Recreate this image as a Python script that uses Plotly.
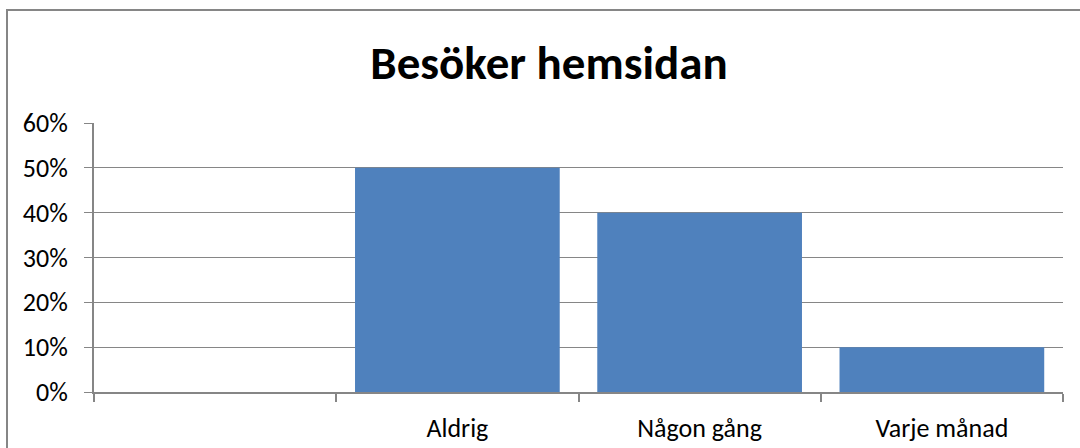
import plotly.graph_objects as go

categories = [" ", "Aldrig", "Någon gång", "Varje månad"]
values = [0.0, 0.50, 0.40, 0.10]
tick_vals = [0, 0.1, 0.2, 0.3, 0.4, 0.5, 0.6]
tick_text = ["0%", "10%", "20%", "30%", "40%", "50%", "60%"]
title = "Besöker hemsidan"

W, H = 1080, 448
L, R, T, B = 94, 17, 123, 56
pw, ph = W - L - R, H - T - B

FONT = "Carlito, Calibri, 'Open Sans', sans-serif"

fig = go.Figure(go.Bar(x=categories, y=values, marker=dict(color="#4F81BD", line=dict(width=0))))

grid = "#868686"
fig.update_layout(
    width=W, height=H,
    margin=dict(l=L, r=R, t=T, b=B, autoexpand=False),
    paper_bgcolor="white", plot_bgcolor="white",
    bargap=0.155,
    showlegend=False,
    font=dict(family=FONT, color="black", size=26),
    title=dict(text="<b>" + title + "</b>", x=549 / W, xanchor="center",
               y=1 - 63 / H, yanchor="middle",
               font=dict(size=47, family=FONT, color="black")),
    xaxis=dict(type="category", showline=True, linecolor=grid, linewidth=2,
               ticks="outside", tickson="boundaries", ticklen=8, tickcolor=grid, tickwidth=2,
               showgrid=False, tickfont=dict(size=26), ticklabelstandoff=12, automargin=False),
    yaxis=dict(range=[0, 0.6], tickvals=tick_vals, ticktext=tick_text,
               showline=True, linecolor=grid, linewidth=2,
               ticks="outside", ticklen=8, tickcolor=grid, tickwidth=1,
               showgrid=True, gridcolor=grid, gridwidth=1, zeroline=False,
               tickfont=dict(size=26), ticklabelstandoff=11, automargin=False),
)

fig.add_shape(type="rect", xref="paper", yref="paper",
              x0=(7 - L) / pw, x1=(W + 20 - L) / pw,
              y0=-(H + 20 - (T + ph)) / ph, y1=(T + ph - 10) / ph,
              line=dict(color=grid, width=2), fillcolor="rgba(0,0,0,0)", layer="below")

fig.write_html("out.html", config={"displayModeBar": False},
               post_script="document.body.style.margin='0';document.body.style.overflow='hidden';")
